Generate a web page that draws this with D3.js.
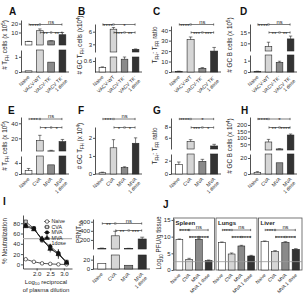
<!DOCTYPE html>
<html><head><meta charset="utf-8">
<script src="https://cdn.jsdelivr.net/npm/d3@7"></script>
<style>body{margin:0;background:#fff}</style>
</head><body><script>
// ---------------- DATA ----------------
const vacvGroups = ["Naive", "VACV-WT", "VACV-TK⁻", "VACV TK⁻\n1 dose"];
const mvaGroups = ["Naive", "CVA", "MVA", "MVA\n1 dose"];
const mvaGroupsJ = ["Naive", "CVA", "MVA", "MVA 1 dose"];

const tfhVacv = [0.08, 12, 0.65, 7.5];        // A
const tfhVacvErr = [0.03, 2, 0.08, 2.5];
const gcTfhVacv = [0.25, 6.6, 0.7, 1.8];      // B
const gcTfhVacvErr = [0.03, 0.4, 0.12, 0.1];
const ratioVacv = [0.5, 31, 3.5, 20];         // C
const ratioVacvErr = [0.3, 2.5, 0.7, 3.5];
const gcBVacv = [0.05, 8.5, 0.85, 12];        // D
const gcBVacvErr = [0.02, 2, 0.1, 1.3];

const tfhMva = [1.2, 17, 3.3, 15.5];          // E
const tfhMvaErr = [0.8, 7, 0.7, 3];
const gcTfhMva = [0.07, 1.45, 0.35, 1.7];     // F
const gcTfhMvaErr = [0.03, 0.45, 0.05, 0.3];
const ratioMva = [1.4, 5.3, 1.9, 4.5];        // G
const ratioMvaErr = [0.4, 0.35, 0.3, 0.3];
const gcBMva = [2, 68, 14, 122];              // H
const gcBMvaErr = [1, 20, 1.5, 8];

const prnt = [12, 290, 8, 220];               // PRNT50
const prntErr = [8, 100, 7, 40];

const dilution = [1.6, 1.9, 2.2, 2.5, 2.8, 3.1];   // I
const neutNaive = [10, 5, 2, 1, 0, 0];
const neutCVA = [83, 70, 47, 32, 20, 5];
const neutMVA = [76, 70, 48, 35, 22, 4];
const neutMVA1 = [74, 68, 50, 30, 20, 3];
const neutErr = [3, 3, 5, 7, 9, 3];
const neutSeries = ["Naive", "CVA", "MVA", "MVA\n1dose"];

const tissues = ["Spleen", "Lungs", "Liver"];      // J
const pfuSpleen = [9.1, 3.2, 9.2, 2.8];
const pfuLungs = [8.2, 4.8, 7.2, 4.2];
const pfuLiver = [8.5, 5.5, 8.3, 6.2];
const pfuErr = [0.2, 0.3, 0.2, 0.2];
const pfuLOD = 2.5;

const sigA = ["****", "ns", "**", "**"];
const sigB = ["****", "*", "***", "**"];
const sigC = ["****", "ns", "***", "***"];
const sigD = ["****", "ns", "**", "**"];
const sigE = ["***", "ns", "*", "*"];
const sigF = ["***", "ns", "*", "*"];
const sigG = ["****", "*", "***", "*"];
const sigH = ["****", "*", "**", "****"];
const sigPRNT = ["**", "ns", "**", "***"];
const sigSpleen = ["****", "ns", "****", "****"];
const sigLungs = ["***", "ns", "****", "****"];
const sigLiver = ["***", "ns", "****", "****"];

const colors = ["#ffffff", "#d6d6d6", "#8a8a8a", "#333333"];
const FONT = '"Liberation Sans", Arial, sans-serif';
const INK = "#262626";

// ---------------- HELPERS ----------------
const svg = d3.select("body").append("svg").attr("width", 304).attr("height", 298)
  .style("font-family", FONT);

function rich(sel, parts, fs) {
  let shift = 0;
  parts.forEach(([t, k]) => {
    const target = k === 1 ? 1.6 : k === 2 ? -2.2 : 0;
    sel.append("tspan").attr("dy", target - shift).attr("font-size", k ? fs * 0.7 : fs).text(t);
    shift = target;
  });
}
function yTitle(x, y, parts, fs = 6.3) {
  const t = svg.append("text").attr("transform", `translate(${x},${y}) rotate(-90)`)
    .attr("text-anchor", "middle").attr("font-size", fs).attr("fill", INK);
  rich(t, parts, fs);
}
function letter(ch, x, y) {
  svg.append("text").attr("x", x).attr("y", y).attr("font-size", 10).attr("font-weight", "bold")
    .attr("fill", "#111").text(ch);
}
function styleAxis(ax) {
  ax.select(".domain").attr("stroke", INK).attr("stroke-width", 0.8);
  ax.selectAll(".tick line").attr("stroke", INK).attr("stroke-width", 0.8);
  ax.selectAll(".tick text").attr("font-size", 6).attr("fill", INK).attr("font-family", FONT);
}
function bracket(g, x1, x2, y, label) {
  g.append("line").attr("x1", x1).attr("x2", x2).attr("y1", y).attr("y2", y)
    .attr("stroke", INK).attr("stroke-width", 0.6);
  [x1, x2].forEach(xx => g.append("line").attr("x1", xx).attr("x2", xx)
    .attr("y1", y - 1.1).attr("y2", y + 1.1).attr("stroke", INK).attr("stroke-width", 0.6));
  const star = label.includes("*");
  g.append("text").attr("x", (x1 + x2) / 2).attr("y", star ? y + 3 : y - 0.8)
    .attr("text-anchor", "middle").attr("font-size", star ? 6.2 : 5.8).attr("fill", INK).text(label);
}
function xLabels(g, x, labels, base, fs = 5) {
  labels.forEach((lab, i) => {
    const cx = x(i) + x.bandwidth() / 2;
    const t = g.append("text").attr("transform", `translate(${cx + 1.5},${base + 5.5}) rotate(-45)`)
      .attr("text-anchor", "end").attr("font-size", fs).attr("fill", INK);
    lab.split("\n").forEach((line, j) => t.append("tspan").attr("x", 0).attr("dy", j ? fs * 1.05 : 0).text(line));
  });
}

function barPanel(o) {
  const n = o.values.length;
  const g = svg.append("g");
  const x = d3.scaleBand().domain(d3.range(n)).range([o.axisX + 1, o.right])
    .paddingInner(o.pi ?? 0.4).paddingOuter(o.po ?? 0.28);
  const segs = o.segs.map(s => ({ ...s, sc: d3.scaleLinear().domain(s.dom).range(s.px) }));
  segs.forEach(s => {
    const ax = g.append("g").attr("transform", `translate(${o.axisX},0)`)
      .call(d3.axisLeft(s.sc).tickValues(s.ticks).tickSize(2).tickSizeOuter(0).tickPadding(1)
        .tickFormat(d3.format(s.fmt || "")));
    styleAxis(ax);
  });
  g.append("line").attr("x1", o.axisX).attr("x2", o.right).attr("y1", o.base).attr("y2", o.base)
    .attr("stroke", INK).attr("stroke-width", 0.8);
  const bw = x.bandwidth();
  o.values.forEach((v, i) => {
    segs.forEach((s, k) => {
      if (k > 0 && v <= s.dom[0]) return;
      const y0 = s.px[0], y1 = s.sc(Math.min(v, s.dom[1]));
      g.append("rect").attr("x", x(i)).attr("y", y1).attr("width", bw).attr("height", Math.max(0.3, y0 - y1))
        .attr("fill", colors[i]).attr("stroke", INK).attr("stroke-width", 0.6);
    });
    const s = segs.filter((s, k) => k === 0 || v > s.dom[0]).pop();
    const e = o.errs[i];
    const cx = x(i) + bw / 2;
    const ya = s.sc(v), yb = s.sc(Math.min(v + e, s.dom[1]));
    g.append("line").attr("x1", cx).attr("x2", cx).attr("y1", ya).attr("y2", yb)
      .attr("stroke", INK).attr("stroke-width", 0.6);
    g.append("line").attr("x1", cx - bw * 0.25).attr("x2", cx + bw * 0.25).attr("y1", yb).attr("y2", yb)
      .attr("stroke", INK).attr("stroke-width", 0.6);
  });
  const c = i => x(i) + bw / 2;
  const [s1, s2, s3, s4] = o.sig;
  bracket(g, c(0) + 0.5, c(1) - 0.5, o.by1, s1);
  bracket(g, c(1) + 0.5, c(3) - 0.5, o.by1, s2);
  bracket(g, c(1) + 0.5, c(2) - 0.5, o.by2, s3);
  bracket(g, c(2) + 0.5, c(3) - 0.5, o.by2, s4);
  xLabels(g, x, o.labels, o.base);
  return x;
}

// ---------------- ROW 1 ----------------
const B1 = 72;
letter("A", 9, 15);
yTitle(7, 45, [["# T", 0], ["FH", 1], [" cells (x 10", 0], ["5", 2], [")", 0]]);
barPanel({ axisX: 21, right: 69, base: B1, values: tfhVacv, errs: tfhVacvErr, labels: vacvGroups,
  segs: [{ dom: [0, 1.45], px: [B1, 50], ticks: [0, 1] }, { dom: [-4, 24], px: [45, 20], ticks: [10, 20] }],
  sig: sigA, by1: 24.5, by2: 32.5 });

letter("B", 78, 15);
yTitle(82, 45, [["# GC T", 0], ["FH", 1], [" cells (x10", 0], ["4", 2], [")", 0]]);
barPanel({ axisX: 95, right: 142, base: B1, values: gcTfhVacv, errs: gcTfhVacvErr, labels: vacvGroups,
  segs: [{ dom: [0, 0.82], px: [B1, 57], ticks: [0.6], fmt: ".1f" }, { dom: [1.17, 7.83], px: [52, 24], ticks: [3, 6] }],
  sig: sigB, by1: 24.5, by2: 32.5 });

letter("C", 153, 15);
yTitle(157, 45, [["T", 0], ["FH", 1], [": T", 0], ["FR", 1], [" ratio", 0]]);
barPanel({ axisX: 171, right: 221, base: B1, values: ratioVacv, errs: ratioVacvErr, labels: vacvGroups,
  segs: [{ dom: [0, 44], px: [B1, 26], ticks: [0, 10, 20, 30, 40] }],
  sig: sigC, by1: 24.5, by2: 32.5 });

letter("D", 240, 15);
yTitle(232, 45, [["# GC B cells (x 10", 0], ["5", 2], [")", 0]]);
barPanel({ axisX: 250, right: 297, base: B1, values: gcBVacv, errs: gcBVacvErr, labels: vacvGroups,
  segs: [{ dom: [0, 1.5], px: [B1, 55], ticks: [0, 1] }, { dom: [6.5, 18.8], px: [51, 24], ticks: [10, 15] }],
  sig: sigD, by1: 24.5, by2: 32.5 });

// ---------------- ROW 2 ----------------
const B2 = 174;
letter("E", 8, 114);
yTitle(7, 146, [["# T", 0], ["FH", 1], [" cells (x 10", 0], ["5", 2], [")", 0]]);
barPanel({ axisX: 21, right: 69, base: B2, values: tfhMva, errs: tfhMvaErr, labels: mvaGroups,
  segs: [{ dom: [0, 6.5], px: [B2, 156], ticks: [0, 4] }, { dom: [3.1, 48.4], px: [151, 117], ticks: [20, 40] }],
  sig: sigE, by1: 119, by2: 127.5 });

letter("F", 78, 114);
yTitle(82, 146, [["# GC T", 0], ["FH", 1], [" (x 10", 0], ["4", 2], [")", 0]]);
barPanel({ axisX: 95, right: 142, base: B2, values: gcTfhMva, errs: gcTfhMvaErr, labels: mvaGroups,
  segs: [{ dom: [0, 2.6], px: [B2, 127], ticks: [0, 1, 2] }],
  sig: sigF, by1: 119, by2: 127.5 });

letter("G", 153, 114);
yTitle(157, 146, [["T", 0], ["FH", 1], [": T", 0], ["FR", 1], [" ratio", 0]]);
barPanel({ axisX: 171, right: 221, base: B2, values: ratioMva, errs: ratioMvaErr, labels: mvaGroups,
  segs: [{ dom: [0, 3], px: [B2, 154], ticks: [0, 2] }, { dom: [3.95, 9.6], px: [149, 118], ticks: [6, 8] }],
  sig: sigG, by1: 119, by2: 127.5 });

letter("H", 241, 114);
yTitle(232, 146, [["# GC B cells (x 10", 0], ["4", 2], [")", 0]]);
barPanel({ axisX: 250, right: 297, base: B2, values: gcBMva, errs: gcBMvaErr, labels: mvaGroups,
  segs: [{ dom: [0, 25], px: [B2, 154], ticks: [0, 20] }, { dom: [5.7, 262], px: [150, 117], ticks: [50, 100, 150, 200] }],
  sig: sigH, by1: 119, by2: 127.5 });

// ---------------- ROW 3 : I ----------------
letter("I", 3, 205);
yTitle(7, 241, [["% Neutralization", 0]]);
{
  const g = svg.append("g");
  const xI = d3.scaleLinear().domain([1.5, 3.3]).range([23, 72]);
  const yI = d3.scaleLinear().domain([-8, 96]).range([268.5, 215]);
  const ay = g.append("g").attr("transform", "translate(23,0)")
    .call(d3.axisLeft(yI).tickValues([0, 20, 40, 60, 80]).tickSize(2).tickSizeOuter(0).tickPadding(1));
  styleAxis(ay);
  const ax = g.append("g").attr("transform", "translate(0,268.5)")
    .call(d3.axisBottom(xI).tickValues([2.0, 2.5, 3.0]).tickSize(2).tickSizeOuter(0).tickPadding(1).tickFormat(d3.format(".1f")));
  styleAxis(ax);
  ax.selectAll(".tick text").attr("font-size", 6);
  g.append("line").attr("x1", 23).attr("x2", 72).attr("y1", yI(50)).attr("y2", yI(50))
    .attr("stroke", "#b5b5b5").attr("stroke-width", 1.2);
  const sets = [neutNaive, neutCVA, neutMVA, neutMVA1];
  const shapes = [d3.symbolCircle, d3.symbolSquare, d3.symbolCircle, d3.symbolTriangle];
  const fills = ["#fff", "#cfcfcf", "#111", "#111"];
  const line = d3.line().x((d, i) => xI(dilution[i])).y(d => yI(d));
  sets.forEach((vals, k) => {
    g.append("path").attr("d", line(vals)).attr("fill", "none").attr("stroke", "#111").attr("stroke-width", 0.7);
    if (k > 0) vals.forEach((v, i) => {
      const e = neutErr[i] * (k === 2 ? 0.8 : 1);
      g.append("line").attr("x1", xI(dilution[i])).attr("x2", xI(dilution[i]))
        .attr("y1", yI(v - e)).attr("y2", yI(v + e)).attr("stroke", "#111").attr("stroke-width", 0.5);
    });
  });
  sets.forEach((vals, k) => {
    vals.forEach((v, i) => g.append("path").attr("d", d3.symbol(shapes[k], k === 1 ? 11 : 10)())
      .attr("transform", `translate(${xI(dilution[i])},${yI(v)})`)
      .attr("fill", fills[k]).attr("stroke", "#111").attr("stroke-width", 0.6));
  });
  // legend
  const ly = [221.5, 227, 232.5, 238];
  neutSeries.forEach((name, k) => {
    g.append("line").attr("x1", 44).attr("x2", 50).attr("y1", ly[k]).attr("y2", ly[k]).attr("stroke", "#111").attr("stroke-width", 0.6);
    g.append("path").attr("d", d3.symbol(shapes[k], 10)()).attr("transform", `translate(47,${ly[k]})`)
      .attr("fill", fills[k]).attr("stroke", "#111").attr("stroke-width", 0.6);
    const t = g.append("text").attr("font-size", 5.3).attr("fill", INK);
    name.split("\n").forEach((ln, j) => t.append("tspan").attr("x", 51.5).attr("y", ly[k] + 1.9 + j * 5.3).text(ln));
  });
  g.append("text").attr("x", 46).attr("y", 283.5).attr("text-anchor", "middle").attr("font-size", 6).attr("fill", INK)
    .call(t => rich(t, [["Log", 0], ["10", 1], [" reciprocal", 0]], 6));
  g.append("text").attr("x", 46).attr("y", 291.5).attr("text-anchor", "middle").attr("font-size", 6).attr("fill", INK)
    .text("of plasma dilution");
}

// ---------------- ROW 3 : PRNT50 ----------------
yTitle(81, 232, [["PRNT", 0], ["50", 1]]);
barPanel({ axisX: 93, right: 150, base: 269, values: prnt, errs: prntErr, labels: mvaGroups,
  segs: [{ dom: [0, 30], px: [269, 255], ticks: [0, 20] }, { dom: [0, 660], px: [249, 219], ticks: [200, 400, 600] }],
  sig: sigPRNT, by1: 223.5, by2: 230.5 });

// ---------------- ROW 3 : J ----------------
letter("J", 163, 208);
yTitle(161, 243, [["Log", 0], ["10", 1], [" PFU/g tissue", 0]]);
{
  const g = svg.append("g");
  const base = 270;
  const yJ = d3.scaleLinear().domain([0, 15.5]).range([base, 218.3]);
  const ay = g.append("g").attr("transform", "translate(173.5,0)")
    .call(d3.axisLeft(yJ).tickValues([0, 5, 10, 15]).tickSize(2).tickSizeOuter(0).tickPadding(1));
  styleAxis(ay);
  const boxes = [[173.5, 214.5], [216, 257], [258.5, 302]];
  const vals = [pfuSpleen, pfuLungs, pfuLiver];
  const sigs = [sigSpleen, sigLungs, sigLiver];
  boxes.forEach(([l, r], b) => {
    g.append("rect").attr("x", l).attr("y", 218).attr("width", r - l).attr("height", base - 218)
      .attr("fill", "none").attr("stroke", "#555").attr("stroke-width", 0.8);
    const x = d3.scaleBand().domain(d3.range(4)).range([l + 1, r - 1]).paddingInner(0.3).paddingOuter(0.15);
    const bw = x.bandwidth();
    vals[b].forEach((v, i) => {
      g.append("rect").attr("x", x(i)).attr("y", yJ(v)).attr("width", bw).attr("height", base - yJ(v))
        .attr("fill", colors[i]).attr("stroke", INK).attr("stroke-width", 0.6);
      const cx = x(i) + bw / 2;
      g.append("line").attr("x1", cx).attr("x2", cx).attr("y1", yJ(v)).attr("y2", yJ(v + pfuErr[i]))
        .attr("stroke", INK).attr("stroke-width", 0.6);
      g.append("line").attr("x1", cx - bw * 0.25).attr("x2", cx + bw * 0.25).attr("y1", yJ(v + pfuErr[i])).attr("y2", yJ(v + pfuErr[i]))
        .attr("stroke", INK).attr("stroke-width", 0.6);
    });
    g.append("line").attr("x1", l).attr("x2", r).attr("y1", yJ(pfuLOD)).attr("y2", yJ(pfuLOD))
      .attr("stroke", "#9a9a9a").attr("stroke-width", 0.8);
    g.append("text").attr("x", l + 2).attr("y", 224.5).attr("font-size", 6).attr("font-weight", "bold")
      .attr("fill", INK).text(tissues[b]);
    const c = i => x(i) + bw / 2;
    const [s1, s2, s3, s4] = sigs[b];
    bracket(g, c(0) + 0.5, c(1) - 0.5, 230, s1);
    bracket(g, c(1) + 0.5, c(3) - 0.5, 230, s2);
    bracket(g, c(1) + 0.5, c(2) - 0.5, 237, s3);
    bracket(g, c(2) + 0.5, c(3) - 0.5, 237, s4);
    xLabels(g, x, mvaGroupsJ, base, 4.8);
  });
}
</script></body></html>
